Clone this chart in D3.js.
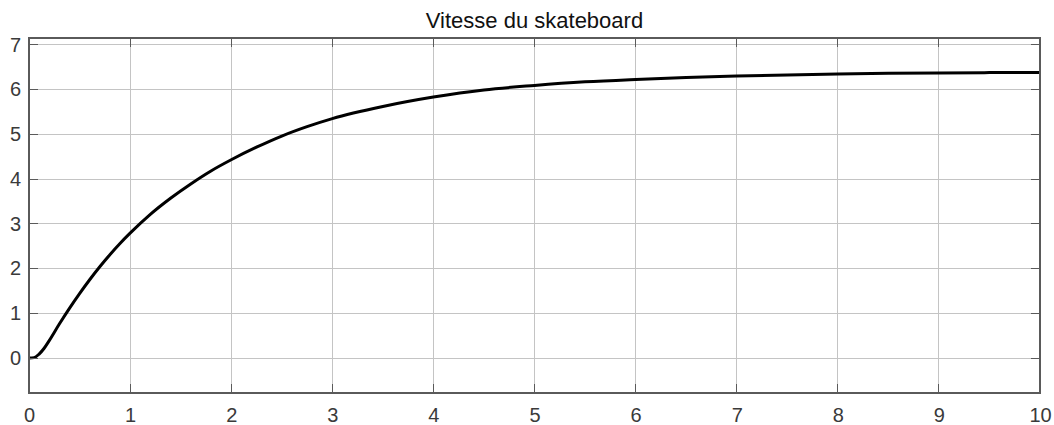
<!DOCTYPE html>
<html><head><meta charset="utf-8">
<script src="https://cdn.jsdelivr.net/npm/d3@7"></script>
<style>body{margin:0;background:#fff}svg{display:block}</style>
</head><body>
<svg id="c" width="1054" height="425"></svg>
<script>
const title = "Vitesse du skateboard";
const xTicks = [0,1,2,3,4,5,6,7,8,9,10];
const yTicks = [0,1,2,3,4,5,6,7];
const time  = [0,0.05,0.1,0.15,0.2,0.3,0.4,0.5,0.6,0.7,0.8,0.9,1.0,1.2,1.4,1.6,1.8,2.0,2.25,2.5,2.75,3.0,3.5,4.0,4.5,5.0,5.5,6.0,6.5,7.0,7.5,8.0,8.5,9.0,9.5,10.0];
const speed = [0,0.01,0.09,0.22,0.39,0.76,1.11,1.44,1.75,2.04,2.31,2.56,2.79,3.21,3.57,3.89,4.18,4.43,4.71,4.96,5.17,5.35,5.62,5.83,5.99,6.09,6.17,6.225,6.27,6.30,6.325,6.345,6.36,6.37,6.377,6.382];

const svg = d3.select("#c");
const L=29,R=1040,T=38,B=393;
const x = d3.scaleLinear().domain([0,10]).range([L,R]);
const y = d3.scaleLinear().domain([-0.78,7.15]).range([B,T]);
const boxC="#5a5a5a", gridC="#c4c4c4", txtC="#3a3a3a";

const g = svg.append("g");
g.selectAll(".gx").data(xTicks).join("line").attr("x1",d=>x(d)).attr("x2",d=>x(d)).attr("y1",T).attr("y2",B).attr("stroke",gridC).attr("stroke-width",1).attr("shape-rendering","crispEdges");
g.selectAll(".gy").data(yTicks).join("line").attr("y1",d=>y(d)).attr("y2",d=>y(d)).attr("x1",L).attr("x2",R).attr("stroke",gridC).attr("stroke-width",1).attr("shape-rendering","crispEdges");

const line = d3.line().x((d,i)=>x(time[i])).y(d=>y(d)).curve(d3.curveMonotoneX);
svg.append("path").datum(speed).attr("d",line).attr("fill","none").attr("stroke","#000").attr("stroke-width",3).attr("stroke-linejoin","round");

const tl=9;
const ax = d3.axisBottom(x).tickValues(xTicks).tickSize(0).tickPadding(15);
const ay = d3.axisLeft(y).tickValues(yTicks).tickSize(0).tickPadding(8);
const gxA = svg.append("g").attr("transform",`translate(0,${B})`).call(ax);
const gyA = svg.append("g").attr("transform",`translate(${L},0)`).call(ay);
[gxA,gyA].forEach(a=>{a.select(".domain").remove();a.selectAll("text").attr("font-family","Liberation Sans, Arial, sans-serif").attr("font-size",20).attr("fill",txtC);});

const tk = svg.append("g").attr("stroke",boxC).attr("stroke-width",1).attr("shape-rendering","crispEdges");
xTicks.forEach(d=>{tk.append("line").attr("x1",x(d)).attr("x2",x(d)).attr("y1",B).attr("y2",B-tl);tk.append("line").attr("x1",x(d)).attr("x2",x(d)).attr("y1",T).attr("y2",T+tl);});
yTicks.forEach(d=>{tk.append("line").attr("y1",y(d)).attr("y2",y(d)).attr("x1",L).attr("x2",L+tl);tk.append("line").attr("y1",y(d)).attr("y2",y(d)).attr("x1",R).attr("x2",R-tl);});
svg.append("rect").attr("x",L).attr("y",T).attr("width",R-L).attr("height",B-T).attr("fill","none").attr("stroke",boxC).attr("stroke-width",1.2).attr("shape-rendering","crispEdges");

svg.append("text").attr("x",(L+R)/2).attr("y",28).attr("text-anchor","middle").attr("font-family","Liberation Sans, Arial, sans-serif").attr("font-size",22).attr("fill","#111").text(title);
</script>
</body></html>
